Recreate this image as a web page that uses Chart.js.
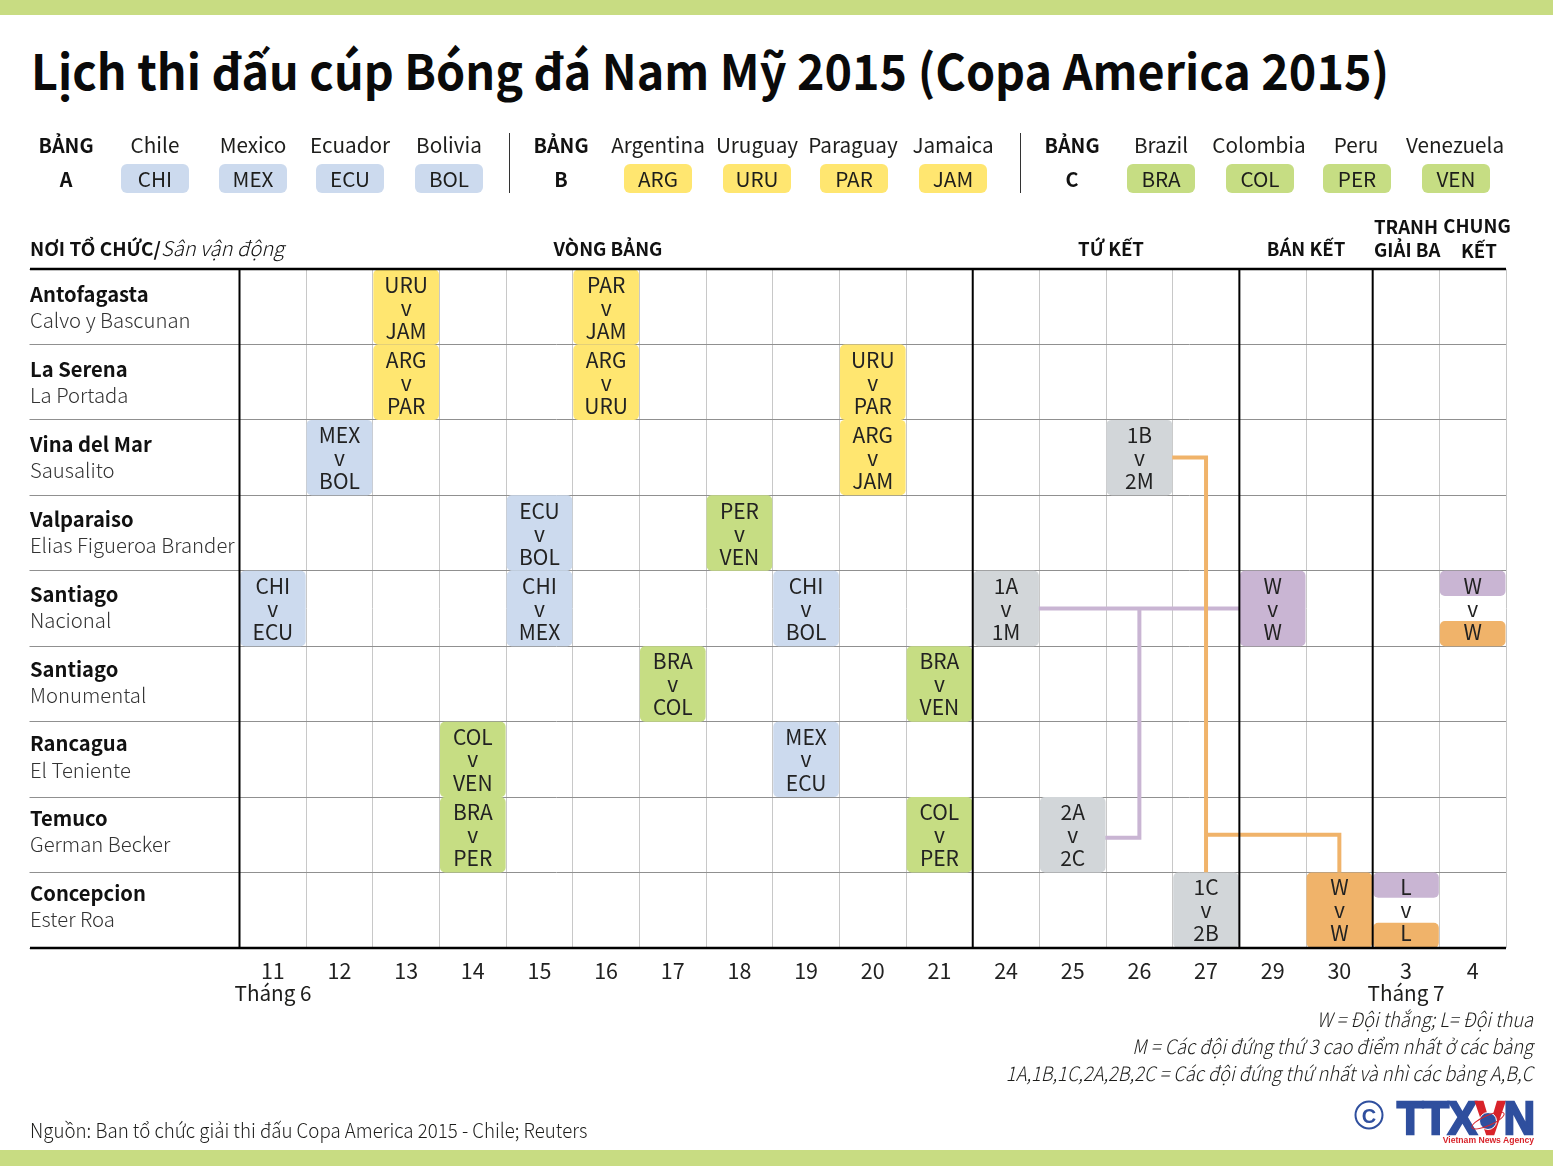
<!DOCTYPE html>
<html lang="vi">
<head>
<meta charset="utf-8">
<title>Lịch thi đấu Copa America 2015</title>
<script src="https://cdn.jsdelivr.net/npm/chart.js@4"></script>
<style>
  html, body { margin: 0; padding: 0; background: #fff; }
  #page { position: relative; width: 1553px; height: 1166px; overflow: hidden; background: #fff;
    font-family: "Noto Sans CJK JP", "Noto Sans", sans-serif; color: #1d1d1b; }
  #schedule { position: absolute; left: 0; top: 0; }
  .band { position: absolute; left: 0; width: 1553px; background: #c8dc82; }
  .txt { position: absolute; white-space: nowrap; line-height: 1; transform: translate(-50%, -50%) scaleX(var(--sx, 1)); }
  .left { transform: translate(0, -50%) scaleX(var(--sx, 1)); transform-origin: left center; }
  .right { transform: translate(-100%, -50%) scaleX(var(--sx, 1)); transform-origin: right center; }
  h1 { position: absolute; left: 31px; top: 68px; margin: 0; font-size: 49px; font-weight: 700; line-height: 1;
    transform: translateY(-50%) scaleX(0.952); transform-origin: left center; white-space: nowrap; color: #0a0a0a; }
  .team { font-size: 20.7px; }
  .b { font-weight: 700; font-size: 19.8px; color: #111; }
  .stage { font-size: 18.6px; }
  .note { font-size: 20px; font-style: italic; font-weight: 300; --sx: 0.915; }
  .pill { position: absolute; top: 164px; height: 29px; border-radius: 6px; width: 68px; font-size: 20.7px;
    line-height: 29px; text-align: center; }
  .rule { position: absolute; top: 133px; width: 1px; height: 60px; background: #333; }
  .logo { font-family: "Liberation Sans", sans-serif; font-weight: 700; }
  .globe { position: absolute; left: 1479px; top: 1112px; width: 16px; height: 16px; border-radius: 50%; background: #2f4f9e; border: 1px solid #fff; }
  .orbit { position: absolute; left: 1470px; top: 1115px; width: 34px; height: 9px; border-radius: 50%; border: 1.5px solid #d8232a; transform: rotate(-24deg); }
</style>
</head>
<body>
<div id="page">
  <div class="band" style="top:0;height:15px"></div>
  <div class="band" style="top:1150px;height:16px"></div>
  <h1>Lịch thi đấu cúp Bóng đá Nam Mỹ 2015 (Copa America 2015)</h1>
  <canvas id="schedule" width="1553" height="1166"></canvas>
</div>
<script>
const dates = ["11", "12", "13", "14", "15", "16", "17", "18", "19", "20", "21", "24", "25", "26", "27", "29", "30", "3", "4"];
const cities = ["Antofagasta", "La Serena", "Vina del Mar", "Valparaiso", "Santiago", "Santiago", "Rancagua", "Temuco", "Concepcion"];
const stadiums = ["Calvo y Bascunan", "La Portada", "Sausalito", "Elias Figueroa Brander", "Nacional", "Monumental", "El Teniente", "German Becker", "Ester Roa"];

// [date, stadium, home, away]
const groupAGames = [
  ["11", "Nacional", "CHI", "ECU"], ["12", "Sausalito", "MEX", "BOL"],
  ["15", "Elias Figueroa Brander", "ECU", "BOL"], ["15", "Nacional", "CHI", "MEX"],
  ["19", "Nacional", "CHI", "BOL"], ["19", "El Teniente", "MEX", "ECU"],
];
const groupBGames = [
  ["13", "Calvo y Bascunan", "URU", "JAM"], ["13", "La Portada", "ARG", "PAR"],
  ["16", "Calvo y Bascunan", "PAR", "JAM"], ["16", "La Portada", "ARG", "URU"],
  ["20", "La Portada", "URU", "PAR"], ["20", "Sausalito", "ARG", "JAM"],
];
const groupCGames = [
  ["14", "El Teniente", "COL", "VEN"], ["14", "German Becker", "BRA", "PER"],
  ["17", "Monumental", "BRA", "COL"], ["18", "Elias Figueroa Brander", "PER", "VEN"],
  ["21", "Monumental", "BRA", "VEN"], ["21", "German Becker", "COL", "PER"],
];
const quarterGames = [
  ["24", "Nacional", "1A", "1M"], ["25", "German Becker", "2A", "2C"],
  ["26", "Sausalito", "1B", "2M"], ["27", "Ester Roa", "1C", "2B"],
];
const semiGameA = [["29", "Nacional", "W", "W"]];
const semiGameB = [["30", "Ester Roa", "W", "W"]];
const lastGames = [["3", "Ester Roa", "L", "L"], ["4", "Nacional", "W", "W"]];

// connector paths: [date, row position]
const semiPathA = [["24", 4.5], ["29", 4.5]];
const semiPathA2 = [["26", 4.5], ["26", 7.54], ["25", 7.54]];
const semiPathB = [["26", 2.5], ["27", 2.5], ["27", 8]];
const semiPathB2 = [["27", 7.5], ["30", 7.5], ["30", 8]];

const stageEnds = ["21", "27", "30"];

const BLUE = "#ccdaee", YELLOW = "#ffe670", GREEN = "#c6dd83", GREY = "#d2d6d9", PURPLE = "#c9b5d3", ORANGE = "#f0b36a";
const CELL_FONT = '"Noto Sans CJK JP", "Noto Sans", sans-serif';

const page = document.getElementById("page");
const put = (text, x, y, cls, style = "") => {
  const el = document.createElement("div");
  el.className = "txt " + cls;
  el.style.cssText = `left:${x}px;top:${y}px;${style}`;
  el.innerHTML = text;
  page.appendChild(el);
};
const pill = (text, x, color) => {
  const el = document.createElement("div");
  el.className = "pill";
  el.style.cssText = `left:${x}px;background:${color}`;
  el.textContent = text;
  page.appendChild(el);
};
const rule = (x) => {
  const el = document.createElement("div");
  el.className = "rule";
  el.style.left = x + "px";
  page.appendChild(el);
};

// legend row
put("BẢNG", 66, 145, "b");
put("A", 66, 179, "b");
put("Chile", 155, 144, "team"); put("Mexico", 253, 144, "team"); put("Ecuador", 350, 144, "team"); put("Bolivia", 449, 144, "team");
pill("CHI", 121, BLUE); pill("MEX", 219, BLUE); pill("ECU", 316, BLUE); pill("BOL", 415, BLUE);
rule(509);
put("BẢNG", 561, 145, "b");
put("B", 561, 179, "b");
put("Argentina", 658, 144, "team"); put("Uruguay", 757, 144, "team"); put("Paraguay", 853, 144, "team"); put("Jamaica", 953, 144, "team");
pill("ARG", 624, YELLOW); pill("URU", 723, YELLOW); pill("PAR", 820, YELLOW); pill("JAM", 919, YELLOW);
rule(1020);
put("BẢNG", 1072, 145, "b");
put("C", 1072, 179, "b");
put("Brazil", 1161, 144, "team"); put("Colombia", 1259, 144, "team"); put("Peru", 1356, 144, "team"); put("Venezuela", 1455, 144, "team");
pill("BRA", 1127, GREEN); pill("COL", 1226, GREEN); pill("PER", 1323, GREEN); pill("VEN", 1422, GREEN);

// stage headers
put('<span style="font-size:19px">NƠI TỔ CHỨC/</span><span style="font-weight:300;font-style:italic;font-size:20.2px">Sân vận động</span>', 30, 248, "b left");
put("VÒNG BẢNG", 608, 248, "b stage");
put("TỨ KẾT", 1111, 248, "b stage");
put("BÁN KẾT", 1306, 248, "b stage");
put("TRANH", 1374, 226, "b left stage");
put("GIẢI BA", 1374, 249, "b left stage");
put("CHUNG", 1477, 225, "b stage");
put("KẾT", 1479, 250, "b stage");

// footer
put("Tháng 6", 273, 992, "team");
put("Tháng 7", 1406, 992, "team");
put("W = Đội thắng; L= Đội thua", 1533, 1019, "note right");
put("M = Các đội đứng thứ 3 cao điểm nhất ở các bảng", 1533, 1046, "note right");
put("1A,1B,1C,2A,2B,2C = Các đội đứng thứ nhất và nhì các bảng A,B,C", 1533, 1073, "note right");
put("Nguồn: Ban tổ chức giải thi đấu Copa America 2015 - Chile; Reuters", 30, 1130, "left", "font-size:20px;font-weight:300;--sx:0.935");

// agency mark
put("C", 1369, 1115, "logo", "font-size:20px;color:#2f4f9e;width:25px;height:25px;border:2px solid #2f4f9e;border-radius:50%;text-align:center;line-height:26px");
put('TTX<span style="color:#d8232a;-webkit-text-stroke-color:#d8232a">V</span>N', 1397, 1118, "logo left", "font-size:46px;color:#2f4f9e;-webkit-text-stroke:2.5px #2f4f9e;letter-spacing:-1px;--sx:0.94");
page.insertAdjacentHTML("beforeend", '<div class="globe"></div><div class="orbit"></div>');
put("Vietnam News Agency", 1534, 1140, "logo right", "font-size:8.6px;color:#d8232a");

const toBars = (games, span = 1, offset = 0, withText = true) => games.map(([date, stadium, home, away]) => {
  const row = stadiums.indexOf(stadium);
  return { x: date, y: [row + offset, row + offset + span], home: withText ? home : "", away: withText ? away : "" };
});

const barSet = (data, color) => ({
  type: "bar",
  data,
  backgroundColor: color,
  grouped: false,
  barPercentage: 0.985,
  categoryPercentage: 1,
  borderRadius: 5,
  borderSkipped: false,
  order: 1,
});

const pathSet = (points, color, order) => ({
  type: "line",
  data: points.map(([x, y]) => ({ x, y })),
  borderColor: color,
  borderWidth: 4,
  pointRadius: 0,
  tension: 0,
  fill: false,
  order,
});

const scheduleText = {
  id: "scheduleText",
  afterDatasetsDraw(chart) {
    const { ctx, scales: { x, y }, chartArea } = chart;
    const step = x.getPixelForValue(1) - x.getPixelForValue(0);
    ctx.save();

    // black stage separators and frame
    ctx.strokeStyle = "#000";
    ctx.lineWidth = 2;
    ctx.beginPath();
    ctx.moveTo(chartArea.left, chartArea.top);
    ctx.lineTo(chartArea.left, chartArea.bottom);
    stageEnds.forEach((d) => {
      const px = x.getPixelForValue(dates.indexOf(d)) + step / 2;
      ctx.moveTo(px, chartArea.top);
      ctx.lineTo(px, chartArea.bottom);
    });
    ctx.stroke();
    ctx.lineWidth = 2.5;
    ctx.beginPath();
    ctx.moveTo(30, chartArea.top);
    ctx.lineTo(chartArea.right, chartArea.top);
    ctx.moveTo(30, chartArea.bottom);
    ctx.lineTo(chartArea.right, chartArea.bottom);
    ctx.stroke();

    // game labels
    ctx.fillStyle = "#222";
    ctx.textAlign = "center";
    ctx.textBaseline = "middle";
    ctx.font = `21px ${CELL_FONT}`;
    chart.data.datasets.forEach((ds) => {
      if (ds.type !== "bar") return;
      ds.data.forEach((g) => {
        if (!g.home) return;
        const cx = x.getPixelForValue(dates.indexOf(g.x));
        const row = Math.floor(g.y[0]) * 0.998;
        ctx.fillText(g.home, cx, y.getPixelForValue(row + 0.21));
        ctx.fillText("v", cx, y.getPixelForValue(row + 0.5) + 1);
        ctx.fillText(g.away, cx, y.getPixelForValue(row + 0.82));
      });
    });

    // venues on the left, their spacing runs slightly tighter than the rows
    ctx.textAlign = "left";
    cities.forEach((city, i) => {
      ctx.font = `700 20.2px ${CELL_FONT}`;
      ctx.fillStyle = "#111";
      ctx.fillText(city, 30, y.getPixelForValue(i * 0.993 + 0.335));
      ctx.font = `300 20.3px ${CELL_FONT}`;
      ctx.fillStyle = "#333";
      ctx.fillText(stadiums[i], 30, y.getPixelForValue(i * 0.993 + 0.68));
    });
    ctx.restore();
  },
};

new Chart(document.getElementById("schedule"), {
  data: {
    labels: dates,
    datasets: [
      barSet(toBars(groupAGames), BLUE),
      barSet(toBars(groupBGames), YELLOW),
      barSet(toBars(groupCGames), GREEN),
      barSet(toBars(quarterGames), GREY),
      barSet(toBars(semiGameA), PURPLE),
      barSet(toBars(semiGameB), ORANGE),
      barSet(toBars(lastGames, 1 / 3, 0), PURPLE),
      barSet(toBars(lastGames, 1 / 3, 2 / 3, false), ORANGE),
      pathSet(semiPathB, ORANGE, 2),
      pathSet(semiPathB2, ORANGE, 2),
      pathSet(semiPathA, PURPLE, 3),
      pathSet(semiPathA2, PURPLE, 3),
    ],
  },
  options: {
    responsive: false,
    animation: false,
    devicePixelRatio: 1,
    layout: { padding: { left: 29.5, top: 269, right: 47, bottom: 178 } },
    plugins: { legend: { display: false }, tooltip: { enabled: false }, title: { display: false } },
    scales: {
      x: {
        type: "category",
        offset: true,
        border: { display: false },
        grid: { offset: true, color: "#c8c8c8", lineWidth: 1, drawTicks: false },
        ticks: { color: "#222", font: { size: 21.5, family: CELL_FONT }, padding: 10, maxRotation: 0, autoSkip: false },
        afterFit: (s) => { s.height = 40; },
      },
      y: {
        type: "linear",
        reverse: true,
        min: 0,
        max: 9,
        border: { display: false },
        grid: { color: "#909090", lineWidth: 1, tickLength: 210 },
        ticks: { stepSize: 1, display: false },
        afterFit: (s) => { s.width = 210; },
      },
    },
  },
  plugins: [scheduleText],
});
</script>
</body>
</html>
